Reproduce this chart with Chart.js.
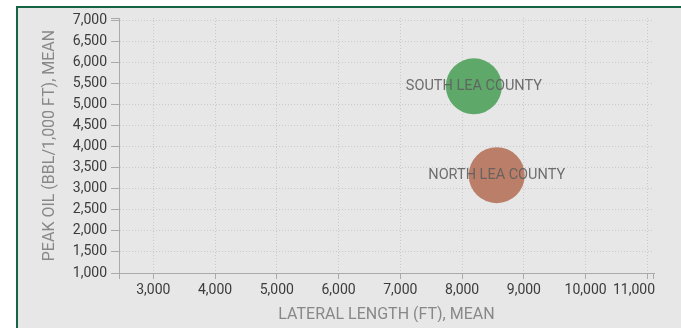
<!DOCTYPE html>
<html>
<head>
<meta charset="utf-8">
<script src="https://cdn.jsdelivr.net/npm/chart.js@4/dist/chart.umd.min.js"></script>
<style>
    html, body { margin: 0; padding: 0; background: #fff; overflow: hidden; }
    #painel { position: absolute; left: 16px; top: 6px; width: 700px; height: 400px; border: 2px solid #156446; background: #e7e7e7; }
    #moldura { position: absolute; left: 0; top: 0; width: 681px; height: 322px; overflow: hidden; }
    #graficoBolhas { position: absolute; left: 0; top: 0; }
</style>
</head>
<body>
<div id="painel"></div>
<div id="moldura"><canvas id="graficoBolhas" width="681" height="328"></canvas></div>
<script>
// dados
const regioes = ['SOUTH LEA COUNTY', 'NORTH LEA COUNTY'];
const comprimentoLateral = [8190, 8560];
const picoOleo = [5430, 3320];
const coresRegioes = ['#5ea86a', '#bb7e69'];
const ticksX = [3000, 4000, 5000, 6000, 7000, 8000, 9000, 10000, 11000];
const ticksY = [1000, 1500, 2000, 2500, 3000, 3500, 4000, 4500, 5000, 5500, 6000, 6500, 7000];

const corEixo = '#aaaaaa';
const corGrelha = 'rgba(195,195,195,0.8)';
const formatar = v => Number(v).toLocaleString('en-US');

// rótulos no centro das bolhas
const rotulosBolhas = {
    id: 'rotulosBolhas',
    afterDatasetsDraw(chart) {
        const ctx = chart.ctx;
        const meta = chart.getDatasetMeta(0);
        ctx.save();
        ctx.font = '14.5px Roboto';
        ctx.fillStyle = 'rgba(95,95,95,0.9)';
        ctx.textAlign = 'center';
        ctx.textBaseline = 'middle';
        meta.data.forEach(function(el, i) {
            ctx.fillText(regioes[i], el.x, el.y);
        });
        ctx.restore();
    }
};

// último rótulo do eixo x encostado ao fim do eixo
const ultimoRotuloX = {
    id: 'ultimoRotuloX',
    beforeDraw(chart) {
        const escala = chart.scales.x;
        const itens = escala.getLabelItems(chart.chartArea);
        const ultimo = itens[itens.length - 1];
        if (ultimo) {
            ultimo.options.textAlign = 'right';
            ultimo.options.translation = [escala.right + 1, ultimo.options.translation[1]];
        }
    }
};

// marcas nas pontas dos eixos
const pontasEixos = {
    id: 'pontasEixos',
    afterDraw(chart) {
        const ctx = chart.ctx;
        const a = chart.chartArea;
        ctx.save();
        ctx.strokeStyle = corEixo;
        ctx.lineWidth = 1;
        ctx.beginPath();
        ctx.moveTo(a.left - 8, Math.round(a.top) + 0.5);
        ctx.lineTo(a.left, Math.round(a.top) + 0.5);
        ctx.moveTo(Math.round(a.left) + 0.5, a.bottom);
        ctx.lineTo(Math.round(a.left) + 0.5, a.bottom + 6);
        ctx.moveTo(Math.round(a.right) - 0.5, a.bottom);
        ctx.lineTo(Math.round(a.right) - 0.5, a.bottom + 6);
        ctx.stroke();
        ctx.restore();
    }
};

const ctx = document.getElementById('graficoBolhas').getContext('2d');
const graficoBolhas = new Chart(ctx, {
    type: 'bubble',
    data: {
        datasets: [{
            label: 'Regiões',
            data: regioes.map((r, i) => ({ x: comprimentoLateral[i], y: picoOleo[i] })),
            radius: 28,
            backgroundColor: coresRegioes,
            borderWidth: 0
        }]
    },
    options: {
        responsive: false,
        devicePixelRatio: 1,
        animation: false,
        layout: { autoPadding: false, padding: { left: 36, right: 27, top: 18, bottom: 0 } },
        plugins: {
            legend: { display: false },
            tooltip: { enabled: false }
        },
        scales: {
            x: {
                type: 'linear',
                min: 2444,
                max: 11107,
                afterBuildTicks: s => { s.ticks = ticksX.map(v => ({ value: v })); },
                afterFit: s => { s.height = 55; s.paddingLeft = 0; s.paddingRight = 0; },
                grid: { color: corGrelha, tickColor: corEixo, tickLength: 6 },
                border: { color: corEixo, dash: [1, 2] },
                ticks: {
                    color: '#3c3c3c',
                    font: { family: 'Roboto', size: 14 },
                    padding: 3,
                    maxRotation: 0,
                    autoSkip: false,
                    callback: formatar
                },
                title: {
                    display: true,
                    text: 'LATERAL LENGTH (FT), MEAN',
                    color: '#888',
                    font: { family: 'Roboto', size: 16 },
                    padding: { top: 0, bottom: 3 }
                }
            },
            y: {
                type: 'linear',
                min: 1000,
                max: 7050,
                afterBuildTicks: s => { s.ticks = ticksY.map(v => ({ value: v })); },
                afterFit: s => { s.width = 83; s.paddingTop = 0; s.paddingBottom = 0; },
                grid: { color: corGrelha, tickColor: corEixo, tickLength: 8 },
                border: { color: corEixo, dash: [1, 2] },
                ticks: {
                    color: '#3c3c3c',
                    font: { family: 'Roboto', size: 14 },
                    padding: 4,
                    autoSkip: false,
                    callback: formatar
                },
                title: {
                    display: true,
                    text: 'PEAK OIL (BBL/1,000 FT), MEAN',
                    color: '#888',
                    font: { family: 'Roboto', size: 16 },
                    padding: { top: 4, bottom: 0 }
                }
            }
        }
    },
    plugins: [rotulosBolhas, ultimoRotuloX, pontasEixos]
});
</script>
</body>
</html>
